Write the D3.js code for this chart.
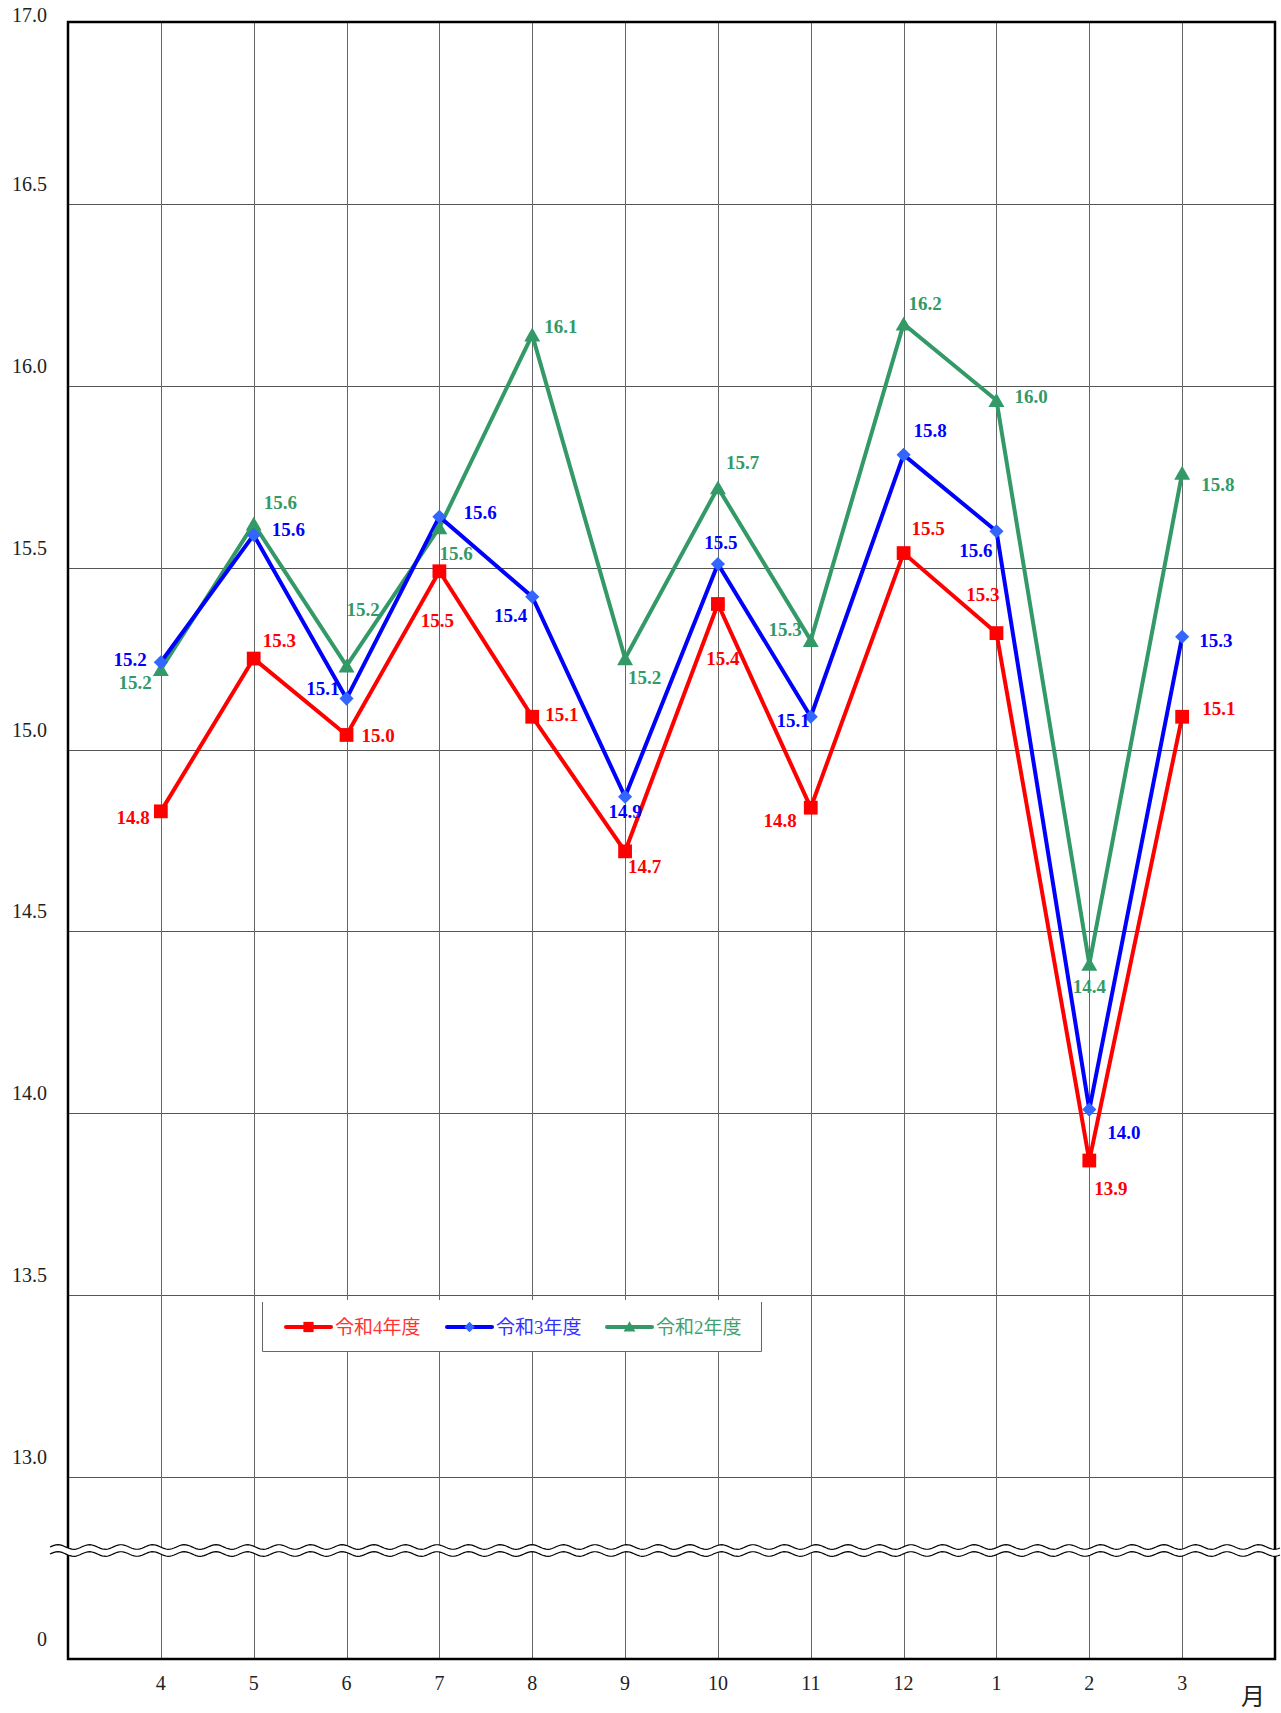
<!DOCTYPE html>
<html>
<head>
<meta charset="utf-8">
<script src="https://cdn.jsdelivr.net/npm/d3@7"></script>
<style>
	body { margin: 0; background: #fff; }
	svg { display: block; }
</style>
</head>
<body>
<svg id="svg_main" width="1281" height="1713"></svg>
<script>
// months on the x axis (fiscal year, April to March)
var months = ["4", "5", "6", "7", "8", "9", "10", "11", "12", "1", "2", "3"];

// values per series
var r4 = [14.83, 15.25, 15.04, 15.49, 15.09, 14.72, 15.40, 14.84, 15.54, 15.32, 13.87, 15.09];
var r3 = [15.24, 15.59, 15.14, 15.64, 15.42, 14.87, 15.51, 15.09, 15.81, 15.60, 14.01, 15.31];
var r2 = [15.22, 15.62, 15.23, 15.61, 16.14, 15.25, 15.72, 15.30, 16.17, 15.96, 14.41, 15.76];

// printed value labels
var r4_text = ["14.8", "15.3", "15.0", "15.5", "15.1", "14.7", "15.4", "14.8", "15.5", "15.3", "13.9", "15.1"];
var r3_text = ["15.2", "15.6", "15.1", "15.6", "15.4", "14.9", "15.5", "15.1", "15.8", "15.6", "14.0", "15.3"];
var r2_text = ["15.2", "15.6", "15.2", "15.6", "16.1", "15.2", "15.7", "15.3", "16.2", "16.0", "14.4", "15.8"];

var names = ["令和4年度", "令和3年度", "令和2年度"];
var yTicks = [0, 13.0, 13.5, 14.0, 14.5, 15.0, 15.5, 16.0, 16.5, 17.0];

// where each value label sits relative to its point: [anchor, dx, dy]
var place_r4 = [["end",-11,6],["start",9,-18],["start",15,1],["middle",-2,49],["start",13,-2],["start",3,15],
	["middle",5,54],["end",-14,13],["start",8,-25],["end",3,-39],["start",5,28],["start",20,-8]];
var place_r3 = [["end",-14,-3],["start",18,-5],["end",-7,-10],["start",24,-4],["end",-5,19],["middle",0,15],
	["middle",3,-21],["end",-1,4],["start",10,-24],["end",-4,19],["start",18,23],["start",17,4]];
var place_r2 = [["end",-9,13],["start",10,-21],["start",0,-56],["start",0,26],["start",12,-8],["start",3,19],
	["start",8,-25],["end",-9,-11],["start",5,-20],["start",18,-4],["middle",0,22],["start",19,11]];

var series = [
	{ name: names[0], values: r4, text: r4_text, place: place_r4, color: "#ff0000", mark: "#ff0000", sym: d3.symbolSquare, size: 190, rot: 0, legend: "#ff3333" },
	{ name: names[1], values: r3, text: r3_text, place: place_r3, color: "#0000ff", mark: "#3366ff", sym: d3.symbolSquare, size: 100, rot: 45, legend: "#3333ff" },
	{ name: names[2], values: r2, text: r2_text, place: place_r2, color: "#339966", mark: "#339966", sym: d3.symbolTriangle, size: 110, rot: 0, legend: "#44a070" }
];

var plotL = 68, plotR = 1275, plotT = 22, plotB = 1659;
var serif = "'Liberation Serif', 'Noto Sans CJK JP', serif";

var svg = d3.select("#svg_main");

var x = d3.scalePoint().domain(months).range([plotL, plotR]).padding(1);
// broken axis: 0 sits at the bottom, 13..17 takes the rest
var y = d3.scaleLinear().domain([0, 13, 17]).range([plotB, 1477, plotT]);

// grid
var grid = svg.append("g").attr("class", "grid");
grid.selectAll(".hgrid")
	.data(yTicks.filter(d => d > 0 && d < 17))
	.enter().append("line")
	.attr("x1", plotL).attr("x2", plotR)
	.attr("y1", d => Math.round(y(d)) + 0.5).attr("y2", d => Math.round(y(d)) + 0.5)
	.attr("stroke", "#555").attr("stroke-width", 1);
grid.selectAll(".vgrid")
	.data(months)
	.enter().append("line")
	.attr("x1", d => Math.round(x(d)) + 0.5).attr("x2", d => Math.round(x(d)) + 0.5)
	.attr("y1", plotT).attr("y2", plotB)
	.attr("stroke", "#666").attr("stroke-width", 1);

// frame
svg.append("rect")
	.attr("x", plotL).attr("y", plotT)
	.attr("width", plotR - plotL).attr("height", plotB - plotT)
	.attr("fill", "none").attr("stroke", "#000").attr("stroke-width", 2.5);

// y tick labels
svg.append("g").selectAll("text")
	.data(yTicks)
	.enter().append("text")
	.attr("x", 47)
	.attr("y", d => Math.max(y(d) - 20, 15))
	.attr("dominant-baseline", "central")
	.attr("text-anchor", "end")
	.attr("font-family", serif)
	.attr("font-size", "20px")
	.attr("fill", "#222")
	.text(d => d == 0 ? "0" : d.toFixed(1));

// x tick labels
svg.append("g").selectAll("text")
	.data(months)
	.enter().append("text")
	.attr("x", d => x(d))
	.attr("y", 1683)
	.attr("dominant-baseline", "central")
	.attr("text-anchor", "middle")
	.attr("font-family", serif)
	.attr("font-size", "20px")
	.attr("fill", "#222")
	.text(d => d);

svg.append("text")
	.attr("x", 1253).attr("y", 1697)
	.attr("dominant-baseline", "central")
	.attr("text-anchor", "middle")
	.attr("font-family", serif)
	.attr("font-size", "24px")
	.attr("fill", "#222")
	.text("月");

// wavy break between 0 and 13
function wave(y0, x0, x1) {
	var pts = [];
	for (var px = x0; px <= x1; px += 2) pts.push([px, y0 - 2.3 * Math.sin((px - x0) / 31.6 * 2 * Math.PI)]);
	return pts;
}
var w1 = wave(1547, 50, 1281), w2 = wave(1554, 50, 1281);
svg.append("path")
	.attr("d", d3.line()(w1.concat(w2.slice().reverse())) + "Z")
	.attr("fill", "#fff");
[w1, w2].forEach(w => {
	svg.append("path")
		.attr("d", d3.line()(w))
		.attr("fill", "none").attr("stroke", "#000").attr("stroke-width", 1.2);
});

// lines
var line = d3.line().x((d, i) => x(months[i])).y(d => y(d));
series.slice().reverse().forEach(s => {
	svg.append("path")
		.datum(s.values)
		.attr("d", line)
		.attr("fill", "none")
		.attr("stroke", s.color)
		.attr("stroke-width", 4)
		.attr("stroke-linejoin", "miter");
});

// markers
series.slice().reverse().forEach(s => {
	svg.append("g").selectAll("path")
		.data(s.values)
		.enter().append("path")
		.attr("transform", (d, i) => `translate(${x(months[i])}, ${y(d) + (s.sym == d3.symbolTriangle ? 2 : 0)}) rotate(${s.rot})`)
		.attr("d", d3.symbol().type(s.sym).size(s.size))
		.attr("fill", s.mark);
});

// value labels
series.forEach(s => {
	svg.append("g").selectAll("text")
		.data(s.values)
		.enter().append("text")
		.attr("x", (d, i) => x(months[i]) + s.place[i][1])
		.attr("y", (d, i) => y(d) + s.place[i][2])
		.attr("text-anchor", (d, i) => s.place[i][0])
		.attr("dominant-baseline", "central")
		.attr("font-family", serif)
		.attr("font-weight", "bold")
		.attr("font-size", "19px")
		.attr("fill", s.color)
		.text((d, i) => s.text[i]);
});

// legend
var lg = svg.append("g").attr("class", "legend");
lg.append("rect")
	.attr("x", 262).attr("y", 1300)
	.attr("width", 500).attr("height", 52)
	.attr("fill", "#fff");
lg.append("path")
	.attr("d", "M262.5,1302V1351.5H761.5V1302")
	.attr("fill", "none").attr("stroke", "#666").attr("stroke-width", 1);
var lx = [286, 447, 607];
series.forEach((s, i) => {
	var g = lg.append("g").attr("transform", `translate(${lx[i]}, 1327)`);
	g.append("line")
		.attr("x1", 0).attr("x2", 45)
		.attr("stroke", s.color).attr("stroke-width", 4).attr("stroke-linecap", "round");
	g.append("path")
		.attr("transform", `translate(22.5, ${s.sym == d3.symbolTriangle ? 1 : 0}) rotate(${s.rot})`)
		.attr("d", d3.symbol().type(s.sym).size(s.size * 0.55))
		.attr("fill", s.mark);
	g.append("text")
		.attr("x", 49).attr("y", 0)
		.attr("dominant-baseline", "central")
		.attr("font-family", serif)
		.attr("font-size", "19px")
		.attr("fill", s.legend)
		.text(s.name);
});
</script>
</body>
</html>
